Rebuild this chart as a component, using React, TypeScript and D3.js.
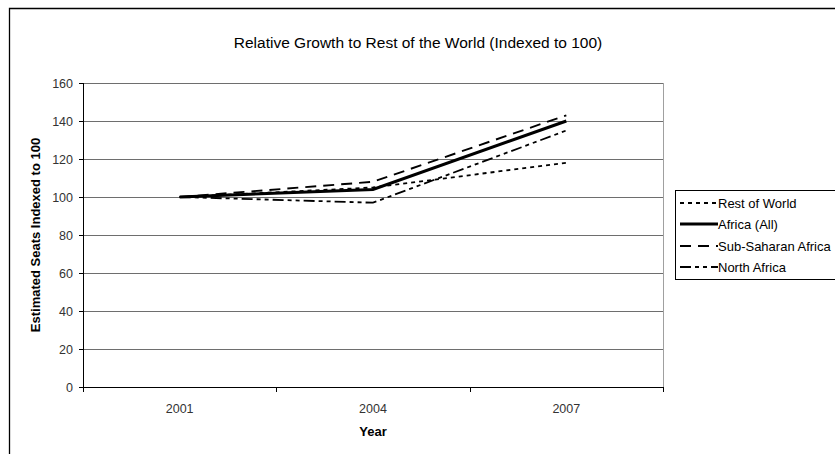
import React from "react";
import * as d3 from "d3";

const years = ["2001", "2004", "2007"];
const restOfWorld = [100, 105, 118];
const africaAll = [100, 104, 140];
const subSaharan = [100, 108, 143];
const northAfrica = [100, 97, 135];
const yTicks = [0, 20, 40, 60, 80, 100, 120, 140, 160];

const series = [
  { name: "Rest of World", values: restOfWorld, dash: "4,4", width: 1.8 },
  { name: "Africa (All)", values: africaAll, dash: "", width: 3 },
  { name: "Sub-Saharan Africa", values: subSaharan, dash: "11,7", width: 1.9 },
  { name: "North Africa", values: northAfrica, dash: "11,4,4,4,4,4", width: 1.8 },
];

const W = 835;
const H = 454;
const plot = { left: 83, right: 663, top: 83, bottom: 387 };
const font = "'Liberation Sans', Arial, sans-serif";

export default function App() {
  const x = d3.scaleBand().domain(years).range([plot.left, plot.right]);
  const y = d3.scaleLinear().domain([0, 160]).range([plot.bottom, plot.top]);
  const line = d3
    .line<number>()
    .x((_, i) => (x(years[i]) as number) + x.bandwidth() / 2)
    .y((v) => y(v));

  const legendX = 675;
  const legendY = 190;
  const legendRowY = [203, 224, 246, 267];

  return (
    <svg
      width={W}
      height={H}
      style={{ position: "absolute", left: 0, top: 0, background: "#fff" }}
      fontFamily={font}
    >
      <rect x={0} y={0} width={W} height={H} fill="#fff" />
      {/* chart area frame */}
      <path d={`M9.5,${H} V8.5 H${W}`} fill="none" stroke="#000" strokeWidth={1.3} />

      <text x={418} y={48} textAnchor="middle" fontSize={15.5} fill="#000">
        Relative Growth to Rest of the World (Indexed to 100)
      </text>

      {/* gridlines */}
      {yTicks.map((t) => (
        <line
          key={"g" + t}
          x1={plot.left}
          x2={plot.right}
          y1={Math.round(y(t)) + 0.5}
          y2={Math.round(y(t)) + 0.5}
          stroke={t === 0 ? "#000" : "#6e6e6e"}
          strokeWidth={1}
        />
      ))}
      {/* plot area right edge */}
      <line x1={plot.right + 0.5} x2={plot.right + 0.5} y1={plot.top} y2={plot.bottom} stroke="#a0a0a0" />

      {/* y axis */}
      <line x1={plot.left + 0.5} x2={plot.left + 0.5} y1={plot.top} y2={plot.bottom + 1} stroke="#000" />
      {yTicks.map((t) => (
        <g key={"y" + t}>
          <line
            x1={plot.left - 4}
            x2={plot.left}
            y1={Math.round(y(t)) + 0.5}
            y2={Math.round(y(t)) + 0.5}
            stroke="#000"
          />
          <text x={plot.left - 10} y={y(t) + 4.5} textAnchor="end" fontSize={12.5} fill="#333">
            {t}
          </text>
        </g>
      ))}

      {/* x axis ticks and labels */}
      {years.map((yr) => (
        <line
          key={"xt" + yr}
          x1={Math.round(x(yr) as number) + 0.5}
          x2={Math.round(x(yr) as number) + 0.5}
          y1={plot.bottom}
          y2={plot.bottom + 5}
          stroke="#000"
        />
      ))}
      <line
        x1={plot.right + 0.5}
        x2={plot.right + 0.5}
        y1={plot.bottom}
        y2={plot.bottom + 5}
        stroke="#000"
      />
      {years.map((yr) => (
        <text
          key={"xl" + yr}
          x={(x(yr) as number) + x.bandwidth() / 2}
          y={413}
          textAnchor="middle"
          fontSize={12.5}
          fill="#333"
        >
          {yr}
        </text>
      ))}

      <text x={373} y={436} textAnchor="middle" fontSize={13} fontWeight="bold" fill="#000">
        Year
      </text>
      <text
        transform={`translate(40,235) rotate(-90)`}
        textAnchor="middle"
        fontSize={13}
        fontWeight="bold"
        fill="#000"
      >
        Estimated Seats Indexed to 100
      </text>

      {/* series lines */}
      {series.map((s) => (
        <path
          key={s.name}
          d={line(s.values) as string}
          fill="none"
          stroke="#000"
          strokeWidth={s.width}
          strokeDasharray={s.dash || undefined}
        />
      ))}

      {/* legend */}
      <rect x={legendX + 0.5} y={legendY + 0.5} width={W} height={89} fill="#fff" stroke="#000" />
      {series.map((s, i) => (
        <g key={"lg" + s.name}>
          <line
            x1={legendX + 5}
            x2={legendX + 43}
            y1={legendRowY[i]}
            y2={legendRowY[i]}
            stroke="#000"
            strokeWidth={s.width}
            strokeDasharray={s.dash || undefined}
          />
          <text x={legendX + 43} y={legendRowY[i] + 4.5} fontSize={13} fill="#000">
            {s.name}
          </text>
        </g>
      ))}
    </svg>
  );
}
